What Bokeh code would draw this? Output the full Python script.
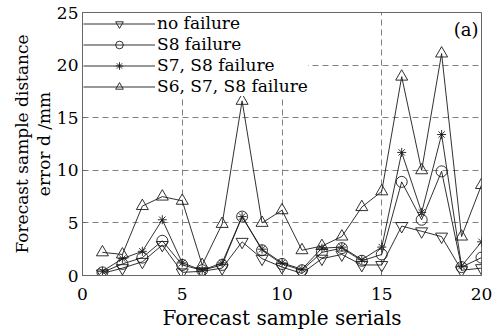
from bokeh.plotting import figure
from bokeh.models import Range1d, FixedTicker, Label, Legend, LegendItem, Title
from bokeh.embed import file_html
from bokeh.resources import INLINE

serials = list(range(1, 21))
no_failure = [0.2, 0.7, 1.3, 2.9, 0.3, 0.4, 0.7, 3.2, 1.6, 0.8, 0.2, 1.6, 2.0, 1.0, 1.0, 4.7, 4.2, 3.7, 0.5, 0.7]
s8_failure = [0.3, 1.1, 1.7, 3.3, 1.0, 0.5, 1.0, 5.6, 2.4, 1.1, 0.5, 2.2, 2.6, 1.4, 2.0, 8.9, 5.3, 9.9, 0.8, 1.7]
s7_s8_failure = [0.4, 1.6, 2.3, 5.3, 1.2, 0.5, 1.2, 5.6, 2.5, 1.2, 0.6, 2.6, 2.7, 1.5, 2.7, 11.7, 6.0, 13.4, 0.9, 3.2]
s6_s7_s8_failure = [2.2, 2.0, 6.6, 7.5, 7.1, 1.0, 4.9, 16.6, 5.0, 6.2, 2.4, 2.8, 3.7, 6.5, 8.0, 18.9, 10.0, 21.1, 3.7, 8.6]

series_names = ["no failure", "S8 failure", "S7, S8 failure", "S6, S7, S8 failure"]
x_ticks = [0, 5, 10, 15, 20]
y_ticks = [0, 5, 10, 15, 20, 25]
x_title = "Forecast sample serials"
y_title_1 = "Forecast sample distance"
y_title_2 = "error d /mm"

FONT = "DejaVu Serif"

p = figure(width=494, height=333, output_backend="svg", toolbar_location=None,
           x_range=Range1d(0, 20), y_range=Range1d(0, 25),
           min_border_left=82, min_border_right=13, min_border_top=12, min_border_bottom=58)
p.background_fill_color = "white"
p.border_fill_color = "white"
p.outline_line_color = "#666666"
p.outline_line_width = 1

for ax in (p.xaxis[0], p.yaxis[0]):
    ax.major_label_text_font = FONT
    ax.major_label_text_font_size = "17px"
    ax.major_label_text_color = "black"
    ax.axis_line_color = "#666666"
    ax.major_tick_line_color = "#666666"
    ax.major_tick_in = 4
    ax.major_tick_out = 0
    ax.minor_tick_line_color = None

p.xaxis.ticker = FixedTicker(ticks=x_ticks)
p.yaxis.ticker = FixedTicker(ticks=y_ticks)
p.xaxis.major_label_standoff = 12
p.yaxis.major_label_standoff = 4

for g in (p.xgrid[0], p.ygrid[0]):
    g.grid_line_color = "#808080"
    g.grid_line_dash = "6 4"
    g.grid_line_width = 1

lc = "#1a1a1a"
items = []
data = [no_failure, s8_failure, s7_s8_failure, s6_s7_s8_failure]
markers = ["inverted_triangle", "circle", "asterisk", "triangle"]
sizes = [12, 11, 9, 12]
for name, ys, mk, sz in zip(series_names, data, markers, sizes):
    r1 = p.line(serials, ys, line_color=lc, line_width=0.9)
    r2 = p.scatter(serials, ys, marker=mk, size=sz, line_color=lc, line_width=0.9, fill_color=None)
    items.append(LegendItem(label=name, renderers=[r1, r2]))

legend = Legend(items=items, location="top_left")
legend.label_text_font = FONT
legend.label_text_font_size = "17px"
legend.label_text_color = "black"
legend.glyph_width = 72
legend.glyph_height = 19
legend.label_height = 19
legend.label_standoff = 2
legend.spacing = 1
legend.padding = 1
legend.margin = 1
legend.border_line_color = None
legend.background_fill_color = "white"
legend.background_fill_alpha = 1.0
p.add_layout(legend)

p.add_layout(Label(x=19.85, y=24.4, text="(a)", text_align="right", text_baseline="top",
                   text_font=FONT, text_font_size="18px", text_color="black"))

p.add_layout(Title(text=x_title, align="center", text_font=FONT, text_font_size="20px",
                   text_font_style="normal", text_color="black", standoff=2, offset=-4), "below")
p.add_layout(Title(text=y_title_2, align="center", text_font=FONT, text_font_size="17px",
                   text_font_style="normal", text_color="black", standoff=0, offset=4), "left")
p.add_layout(Title(text=y_title_1, align="center", text_font=FONT, text_font_size="17px",
                   text_font_style="normal", text_color="black", standoff=0, offset=4), "left")

open("out.html", "w").write(file_html(p, INLINE))
